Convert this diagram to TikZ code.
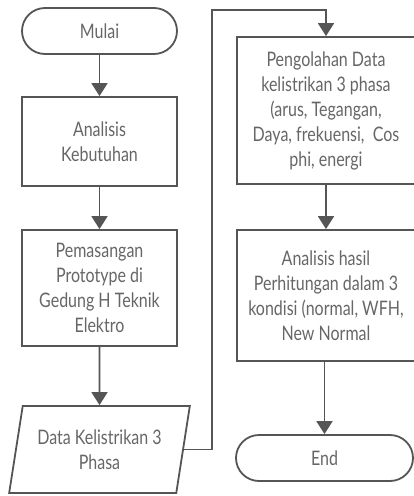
\documentclass[tikz,border=0pt]{standalone}
\usepackage{fontspec}
\setmainfont{Lato}[FakeStretch=0.8]
\usetikzlibrary{arrows.meta,shapes.geometric}
\definecolor{linegray}{HTML}{555555}
\definecolor{textgray}{HTML}{666666}
\tikzset{
  base/.style={draw=linegray, line width=1.8pt, text=textgray, align=center,
    font=\fontsize{20}{25}\selectfont, inner sep=0pt},
  term/.style={base, rectangle, rounded corners=23pt, minimum height=46pt},
  procbox/.style={base, rectangle},
  iobox/.style={base, trapezium, trapezium left angle=74.6, trapezium right angle=105.4,
    trapezium stretches=true, minimum width=181pt, minimum height=87pt},
  flow/.style={draw=linegray, line width=1.8pt, -{Triangle[width=16pt,length=13pt]}},
}
\begin{document}
\begin{tikzpicture}[x=1pt,y=-1pt]
\useasboundingbox (0,0) rectangle (414,496);
\node[term, minimum width=155pt] (mulai) at (99.5,31) {Mulai};
\node[procbox, minimum width=155pt, minimum height=89pt] (ana) at (99.5,141.5) {Analisis\\Kebutuhan};
\node[procbox, minimum width=155pt, minimum height=116pt] (pem) at (99.5,288) {Pemasangan\\Prototype di\\Gedung H Teknik\\Elektro};
\node[iobox] (data) at (99.5,449.5) {Data Kelistrikan 3\\Phasa};
\node[procbox, minimum width=178pt, minimum height=147pt] (peng) at (326,110.5) {Pengolahan Data\\kelistrikan 3 phasa\\(arus, Tegangan,\\Daya, frekuensi,\ \ Cos\\phi, energi};
\node[procbox, minimum width=178pt, minimum height=131pt] (hasil) at (326,295.5) {Analisis hasil\\Perhitungan dalam 3\\kondisi (normal, WFH,\\New Normal};
\node[term, minimum width=177pt] (end) at (324.5,458) {End};
\coordinate (turn) at (212,10);
\draw[flow] (mulai) -- (ana);
\draw[flow] (ana) -- (pem);
\draw[flow] (pem) -- (data);
\draw[flow] (data.east) -| (turn) -| (peng.north);
\draw[flow] (peng) -- (hasil);
\draw[flow] (hasil.south -| end.north) -- (end.north);
\end{tikzpicture}
\end{document}
